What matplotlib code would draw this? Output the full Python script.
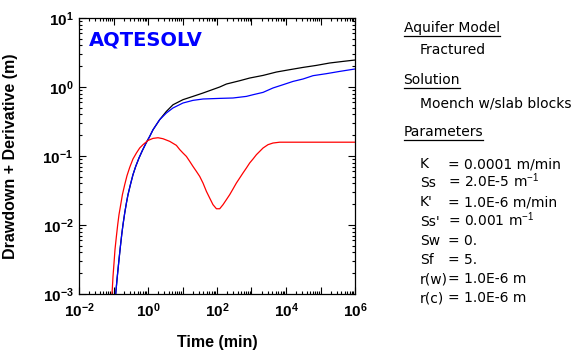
import matplotlib
matplotlib.use("Agg")
import matplotlib.pyplot as plt
import matplotlib.ticker as ticker
from matplotlib.lines import Line2D
import numpy as np

plt.rcParams['mathtext.fontset'] = 'custom'
plt.rcParams['mathtext.rm'] = 'Liberation Sans'
plt.rcParams['mathtext.bf'] = 'Liberation Sans:bold'

# drawdown (black) - same as the blue curve at early time
t_draw = [0.1159, 0.1262, 0.1349, 0.1442, 0.1585, 0.1730, 0.1884, 0.2113, 0.2366, 0.263,
          0.309, 0.367, 0.440, 0.548, 0.689, 0.899, 1.119, 1.396, 2.18, 3.41, 5.31, 10.3,
          20.1, 39.3, 120, 187, 455, 887, 2163, 5272, 12790, 31120, 75860, 184900, 449800, 1e6]
s_draw = [0.001, 0.00161, 0.00225, 0.00314, 0.00490, 0.00723, 0.0101, 0.0149, 0.0208, 0.0275,
          0.0384, 0.0536, 0.0706, 0.0935, 0.1205, 0.1574, 0.1923, 0.240, 0.336, 0.443, 0.553, 0.655,
          0.731, 0.818, 1.0, 1.104, 1.233, 1.349, 1.472, 1.648, 1.782, 1.923, 2.056, 2.228, 2.350, 2.460]

# blue curve
t_blue = [0.1159, 0.1262, 0.1349, 0.1442, 0.1585, 0.1730, 0.1884, 0.2113, 0.2366, 0.263,
          0.309, 0.367, 0.440, 0.548, 0.689, 0.899, 1.119, 1.396, 2.18, 3.41, 5.31, 10.3,
          20.1, 39.3, 120, 291, 711, 1109, 2163, 4198, 8185, 15960, 31120, 60670, 147900,
          360600, 1e6]
s_blue = [0.001, 0.00161, 0.00225, 0.00314, 0.00490, 0.00723, 0.0101, 0.0149, 0.0208, 0.0275,
          0.0384, 0.0536, 0.0706, 0.0935, 0.1205, 0.1574, 0.1923, 0.240, 0.336, 0.420, 0.497, 0.586,
          0.640, 0.670, 0.684, 0.693, 0.731, 0.773, 0.836, 0.968, 1.079, 1.205, 1.306, 1.459, 1.560,
          1.683, 1.824]

# derivative (red)
t_der = [0.0906, 0.0968, 0.1035, 0.1104, 0.1213, 0.1324, 0.1442, 0.1618, 0.1811, 0.2113,
         0.246, 0.295, 0.367, 0.461, 0.574, 0.716, 1.0, 1.396, 1.950, 2.72, 4.26, 6.65,
         8.30, 10.33, 12.97, 16.18, 20.14, 25.29, 31.55, 39.26, 49.32, 61.38, 76.56, 96.2,
         119.7, 149.3, 187.1, 233.3, 291.1, 364.8, 455, 567.5, 711.2, 887, 1109, 1387, 1730,
         2163, 3006, 4198, 6561, 1e6]
s_der = [0.0010, 0.00180, 0.00281, 0.00439, 0.00684, 0.0101, 0.0141, 0.0197, 0.0275, 0.0384,
         0.0518, 0.0684, 0.0906, 0.1104, 0.1306, 0.1459, 0.168, 0.180, 0.184, 0.178, 0.163, 0.1426,
         0.1240, 0.1104, 0.0986, 0.0836, 0.0706, 0.0598, 0.0506, 0.0406, 0.0307, 0.0246, 0.0197, 0.0172,
         0.0172, 0.0197, 0.0233, 0.0275, 0.0333, 0.0406, 0.0480, 0.0568, 0.0670, 0.0793, 0.0906, 0.1045,
         0.1167, 0.1306, 0.1459, 0.1542, 0.1585, 0.1585]

headers = ["Aquifer Model", "Solution", "Parameters"]
header_values = ["Fractured", "Moench w/slab blocks"]
param_names = ["K", "Ss", "K'", "Ss'", "Sw", "Sf", "r(w)", "r(c)"]
param_values = ["= 0.0001 m/min", "= 2.0E-5 m$^{-1}$", "= 1.0E-6 m/min", "= 0.001 m$^{-1}$",
                "= 0.", "= 5.", "= 1.0E-6 m", "= 1.0E-6 m"]

W, H = 587, 350
fig = plt.figure(figsize=(W / 100, H / 100), dpi=100)
ax = fig.add_axes([79 / W, 1 - 294 / H, 276 / W, 276 / H])

ax.plot(t_draw, s_draw, color='black', lw=0.9)
ax.plot(t_blue, s_blue, color='#0000ff', lw=0.9)
ax.plot(t_der, s_der, color='#ff0000', lw=0.9)

ax.set_xscale('log')
ax.set_yscale('log')
ax.set_xlim(1e-2, 1e6)
ax.set_ylim(1e-3, 1e1)

ax.xaxis.set_major_locator(ticker.LogLocator(base=10, numticks=20))
ax.xaxis.set_minor_locator(ticker.LogLocator(base=10, subs=np.arange(2, 10), numticks=20))
ax.yaxis.set_major_locator(ticker.LogLocator(base=10, numticks=20))
ax.yaxis.set_minor_locator(ticker.LogLocator(base=10, subs=np.arange(2, 10), numticks=20))


def fmt_x(v, pos):
    e = int(round(np.log10(v)))
    return r"$\mathbf{10^{%d}}$" % e if e % 2 == 0 else ""


def fmt_y(v, pos):
    e = int(round(np.log10(v)))
    return r"$\mathbf{10^{%d}}$" % e


ax.xaxis.set_major_formatter(ticker.FuncFormatter(fmt_x))
ax.yaxis.set_major_formatter(ticker.FuncFormatter(fmt_y))
ax.xaxis.set_minor_formatter(ticker.NullFormatter())
ax.yaxis.set_minor_formatter(ticker.NullFormatter())

ax.tick_params(which='both', direction='in', top=True, right=True, width=0.8, color='black')
ax.tick_params(which='major', length=5, labelsize=11)
ax.tick_params(which='minor', length=2.5)
ax.tick_params(axis='x', which='major', pad=5)
ax.tick_params(axis='y', which='major', pad=4)
for sp in ax.spines.values():
    sp.set_linewidth(0.9)

ax.set_xlabel('Time (min)', fontsize=11.5, fontweight='bold', family='Liberation Sans')
ax.set_ylabel('Drawdown + Derivative (m)', fontsize=11.5, fontweight='bold', family='Liberation Sans')
ax.xaxis.set_label_coords(0.5, -0.149)
ax.yaxis.set_label_coords(-0.222, 0.5)

ax.text(0.036, 0.902, 'AQTESOLV', transform=ax.transAxes, color='#0000ff',
        fontsize=14, fontweight='bold', family='DejaVu Sans', va='baseline')

# right-hand panel
def fy(py):
    return 1 - py / H


fs = 10
head_y = [32, 83.5, 135.5]
sub_y = [54.5, 108]
under = []
for txt, py in zip(headers, head_y):
    t = fig.text(403.5 / W, fy(py), txt, fontsize=fs, va='baseline', family='DejaVu Sans')
    under.append((t, py + 4))
for txt, py in zip(header_values, sub_y):
    fig.text(420 / W, fy(py), txt, fontsize=fs, va='baseline', family='DejaVu Sans')

for i, (nm, val) in enumerate(zip(param_names, param_values)):
    py = 168 + 19.2 * i
    fig.text(420 / W, fy(py), nm, fontsize=fs, va='baseline', family='DejaVu Sans')
    fig.text(448 / W, fy(py), val, fontsize=fs, va='baseline', family='DejaVu Sans')

fig.canvas.draw()
plt.setp(ax.get_yticklabels(), va='center_baseline')
r = fig.canvas.get_renderer()
for t, py in under:
    bb = t.get_window_extent(r)
    fig.add_artist(Line2D([bb.x0 / W, bb.x1 / W], [fy(py), fy(py)], color='black', lw=0.9,
                          transform=fig.transFigure))

fig.savefig('out.png', dpi=100)
